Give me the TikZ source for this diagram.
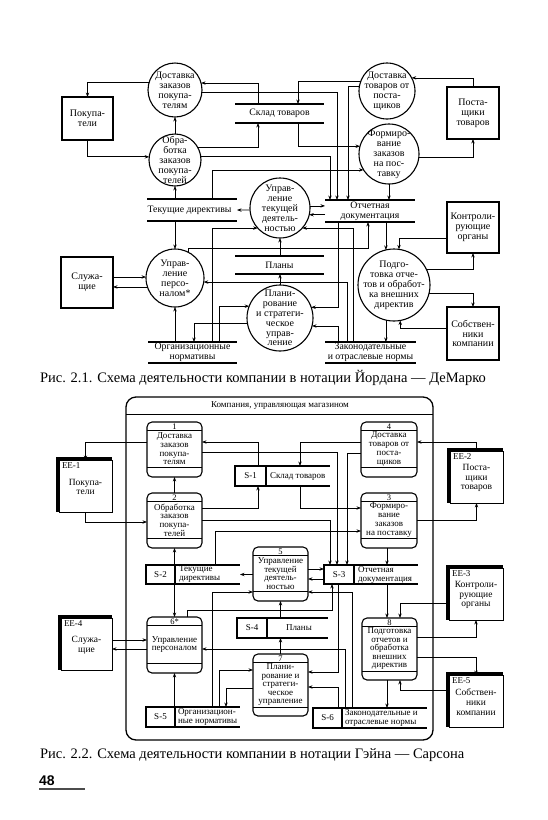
\documentclass[tikz,border=0pt]{standalone}
\usepackage{fontspec}
\setmainfont{Liberation Serif}
\newfontfamily\pgnumfont{Liberation Sans}
\usetikzlibrary{arrows.meta}
\begin{document}
\begin{tikzpicture}[x=1pt,y=-1pt,
  every node/.style={inner sep=0pt,outer sep=0pt},
  dtext/.style={align=center,font=\fontsize{10}{9.9}\selectfont},
  gptext/.style={align=center,font=\fontsize{9}{8.7}\selectfont},
  circ/.style={circle,draw,line width=1.1pt},
  ebox/.style={rectangle,draw,line width=1.1pt,align=center,font=\fontsize{10}{9.9}\selectfont},
  dstore/.style={align=center,font=\fontsize{9.8}{9.8}\selectfont},
  sline/.style={line width=1.3pt},
  arr/.style={-{Stealth[length=4.5pt,width=3.4pt]},line width=0.7pt},
  gproc/.style={rectangle,draw,rounded corners=5pt,line width=1.1pt},
  band/.style={line width=0.9pt},
  gnum/.style={font=\fontsize{8.5}{8.5}\selectfont},
  gid/.style={rectangle,draw,line width=1.1pt,font=\fontsize{9}{9}\selectfont},
  gtext/.style={anchor=west,align=left,font=\fontsize{9}{9}\selectfont},
  eebox/.style={rectangle,draw,line width=0.8pt,fill=white},
  eelab/.style={anchor=north west,font=\fontsize{9}{9}\selectfont},
  eetext/.style={align=center,font=\fontsize{9.5}{9.8}\selectfont},
  captxt/.style={anchor=west,font=\fontsize{14.5}{15}\selectfont}
]
\useasboundingbox (0,0) rectangle (547,820);
\fill[white] (0,0) rectangle (547,820);

% ================= TOP DIAGRAM (Yourdon - DeMarco) =================
\node[circ,minimum size=54pt] (c1) at (175,90) {};
\node[dtext] (t1) at (c1) {Доставка\\заказов\\покупа-\\телям};
\node[circ,minimum size=52pt] (c2) at (175,160) {};
\node[dtext] (t2) at (c2) {Обра-\\ботка\\заказов\\покупа-\\телей};
\node[circ,minimum size=56pt] (c3) at (387,91) {};
\node[dtext] (t3) at (c3) {Доставка\\товаров от\\поста-\\щиков};
\node[circ,minimum size=60pt] (c4) at (389,154) {};
\node[dtext] (t4) at (c4) {Формиро-\\вание\\заказов\\на пос-\\тавку};
\node[circ,minimum size=60pt] (c5) at (280,208) {};
\node[dtext] (t5) at (c5) {Управ-\\ление\\текущей\\деятель-\\ностью};
\node[circ,minimum size=58pt] (c6) at (175,278) {};
\node[dtext] (t6) at (c6) {Управ-\\ление\\персо-\\налом*};
\node[circ,minimum size=66pt] (c7) at (280,318) {};
\node[dtext] (t7) at (c7) {Плани-\\рование\\и стратеги-\\ческое\\управ-\\ление};
\node[circ,minimum size=72pt] (c8) at (394,285) {};
\node[dtext] (t8) at (c8) {Подго-\\товка отче-\\тов и обработ-\\ка внешних\\директив};

\node[ebox,minimum width=51pt,minimum height=43pt] (bpk) at (87.5,118.5) {Покупа-\\тели};
\node[ebox,minimum width=52pt,minimum height=52pt] (bps) at (473,113) {Поста-\\щики\\товаров};
\node[ebox,minimum width=52pt,minimum height=51pt] (bsl) at (87,282.5) {Служа-\\щие};
\node[ebox,minimum width=52pt,minimum height=51pt] (bko) at (473,227.5) {Контроли-\\рующие\\органы};
\node[ebox,minimum width=52pt,minimum height=53pt] (bso) at (473,333.5) {Собствен-\\ники\\компании};

\node[dstore,minimum width=89pt,minimum height=19pt] (ssk) at (279.5,113.5) {Склад товаров};
\node[dstore,minimum width=90pt,minimum height=22pt] (std) at (192,210) {Текущие директивы\hspace{5pt}};
\node[dstore,minimum width=90pt,minimum height=22pt] (sod) at (370,211) {Отчетная\\документация};
\node[dstore,minimum width=89pt,minimum height=18pt] (spl) at (279.5,265) {Планы};
\node[dstore,minimum width=89pt,minimum height=21pt] (son) at (192.5,352.5) {Организационные\\нормативы};
\node[dstore,minimum width=91pt,minimum height=21pt] (szn) at (370.5,352.5) {Законодательные\\и отраслевые нормы};
\foreach \s in {ssk,std,sod,spl,son,szn}{
  \draw[sline] (\s.north west) -- (\s.north east) (\s.south west) -- (\s.south east);
}

% connectors top
\draw[arr] (c1.163) -| (bpk.north);
\draw[arr] (bpk.south) |- (c2.173);
\draw[arr] (c2.north) -- (c1.south);
\draw[arr] (258,0 |- ssk.north) |- (c1.15);
\draw[arr] (c1.354) -| (337,0 |- sod.north);
\draw[arr] (c2.30) -| (258,0 |- ssk.south);
\draw[arr] (c2.7) -| (330,0 |- sod.north);
\draw[arr] (c3.159) -| (298,0 |- ssk.north);
\draw[arr] (c3.170) -| (348,0 |- sod.north);
\draw[arr] (bps.north) |- (c3.28);
\draw[arr] (c4.354) -| (bps.south);
\draw[arr] (298,0 |- ssk.south) |- (c4.165);
\draw[arr] (212,0 |- std.north) |- (c4.212);
\draw[arr] (c2.south |- std.north) -- (c2.south);
\draw[arr] (c4.south) -- (c4.south |- sod.north);
\draw[arr] (c5.184) -- (std.east);
\draw[arr] (c5.4) -- (sod.west |- c5.4);
\draw[arr] (sod.west |- c5.347) -- (c5.347);
\draw[arr] (c5.south |- spl.north) -- (c5.south);
\draw[arr] (c7.north) -- (c7.north |- spl.south);
\draw[arr] (212,0 |- son.north) |- (c5.222);
\draw[arr] (353,0 |- szn.north) |- (c5.318);
\draw[arr] (c6.63) |- (368,248) -- (368,0 |- sod.south);
\draw[arr] (c6.north |- std.south) -- (c6.north);
\draw[arr] (bsl.east |- c6.178) -- (c6.178);
\draw[arr] (c6.198) -- (bsl.east |- c6.198);
\draw[arr] (c6.south |- son.north) -- (c6.south);
\draw[arr] (347,0 |- szn.north) |- (c6.352);
\draw[arr] (338,0 |- sod.south) |- (c7.19);
\draw[arr] (338,0 |- szn.north) |- (c7.346);
\draw[arr] (219,0 |- son.north) |- (c7.159);
\draw[arr] (c7.190) -| (194,0 |- son.north);
\draw[arr] (c8.103 |- sod.south) -- (c8.103);
\draw[arr] (bko.west |- 0,238) -| (c8.82);
\draw[arr] (c8.25) -| (bko.south);
\draw[arr] (c8.347) -| (bso.north);
\draw[arr] (bso.west |- 0,328) -| (c8.280);
\draw[arr] (c8.257) -- (c8.257 |- szn.north);

\node[captxt] (cap1) at (40,378) {Рис. 2.1. Схема деятельности компании в нотации Йордана~--- ДеМарко};

% ================= BOTTOM DIAGRAM (Gane - Sarson) =================
\node[draw,rounded corners=10pt,line width=1.3pt,minimum width=307pt,minimum height=343pt] (frame) at (279.5,568.5) {};
\draw[line width=1pt] (frame.west |- 0,414) -- (frame.east |- 0,414);
\node[font=\fontsize{9}{9}\selectfont] (fhead) at (280,406) {Компания, управляющая магазином};

% processes
\newcommand{\gsproc}[6]{%
  \node[gproc,minimum width=#3pt,minimum height=#4pt] (#1) at (#2) {};
  \draw[band] ([yshift=-8.5pt]#1.north west) -- ([yshift=-8.5pt]#1.north east);
  \draw[band] ([yshift=9.5pt]#1.south west) -- ([yshift=9.5pt]#1.south east);
  \node[gnum] (#1n) at ([yshift=-4.3pt]#1.north) {#5};
  \node[gptext] (#1t) at ([yshift=0.5pt]#1.center) {#6};
}
\gsproc{p1}{174.5,449.5}{55}{55}{1}{Доставка\\заказов\\покупа-\\телям}
\gsproc{p2}{174.5,520.5}{55}{55}{2}{Обработка\\заказов\\покупа-\\телей}
\gsproc{p4}{389,449.5}{56}{55}{4}{Доставка\\товаров от\\поста-\\щиков}
\gsproc{p3}{389,520.5}{56}{55}{3}{Формиро-\\вание\\заказов\\на поставку}
\gsproc{p5}{280.5,574}{55}{54}{5}{Управление\\текущей\\деятель-\\ностью}
\gsproc{p6}{174.5,645}{55}{56}{6*}{Управление\\персоналом}
\node[gproc,minimum width=55pt,minimum height=62pt] (p7) at (280.5,685) {};
\draw[band] ([yshift=-8.5pt]p7.north west) -- ([yshift=-8.5pt]p7.north east);
\draw[band] ([yshift=9pt]p7.south west) -- ([yshift=9pt]p7.south east);
\node[gnum] (p7n) at ([yshift=-4.3pt]p7.north) {7};
\node[align=center,font=\fontsize{9}{8.5}\selectfont] (p7t) at (p7.center) {Плани-\\рование и\\стратеги-\\ческое\\управление};
\node[gproc,minimum width=55pt,minimum height=62pt] (p8) at (389.5,649) {};
\draw[band] ([yshift=-8.5pt]p8.north west) -- ([yshift=-8.5pt]p8.north east);
\draw[band] ([yshift=9pt]p8.south west) -- ([yshift=9pt]p8.south east);
\node[gnum] (p8n) at ([yshift=-4.3pt]p8.north) {8};
\node[align=center,font=\fontsize{9}{8.5}\selectfont] (p8t) at (p8.center) {Подготовка\\отчетов и\\обработка\\внешних\\директив};

% stores
\newcommand{\gsstore}[6]{%
  \node[gid,minimum width=#3pt,minimum height=#4pt] (#1) at (#2) {#5};
  \draw[line width=1.1pt] (#1.north east) -- (#6,0 |- #1.north);
  \draw[line width=1.1pt] (#1.south east) -- (#6,0 |- #1.south);
}
\gsstore{g1}{250.5,476}{31}{20}{S-1}{330}
\gsstore{g2}{160.5,574.5}{29}{19}{S-2}{240}
\gsstore{g3}{339,574.5}{30}{19}{S-3}{418}
\gsstore{g4}{252,628}{30}{20}{S-4}{328}
\gsstore{g5}{160.5,717}{29}{20}{S-5}{240}
\gsstore{g6}{327.5,718}{29}{20}{S-6}{427}
\node[gtext] (g1t) at ([xshift=4pt]g1.east) {Склад товаров};
\node[gtext] (g2t) at ([xshift=4pt]g2.east) {Текущие\\директивы};
\node[gtext] (g3t) at ([xshift=4pt]g3.east) {Отчетная\\документация};
\node[gtext] (g4t) at ([xshift=19pt]g4.east) {Планы};
\node[gtext] (g5t) at ([xshift=3pt]g5.east) {Организацион-\\ные нормативы};
\node[gtext] (g6t) at ([xshift=3pt]g6.east) {Законодательные и\\отраслевые нормы};

% external entities
\newcommand{\gsee}[5]{%
  \node[eebox,minimum width=#3pt,minimum height=52pt] (#1) at (#2) {};
  \fill ([xshift=-2.6pt]#1.south west) rectangle (#1.north west);
  \fill ([xshift=-2.6pt,yshift=2.6pt]#1.north west) rectangle (#1.north east);
  \node[eelab] (#1l) at ([xshift=3pt,yshift=-3pt]#1.north west) {#4};
  \node[eetext] (#1t) at ([yshift=-1pt]#1.center) {#5};
}
\gsee{e1}{85.5,486}{53}{EE-1}{Покупа-\\тели}
\gsee{e2}{476.5,477}{53}{EE-2}{Поста-\\щики\\товаров}
\gsee{e3}{476,594}{54}{EE-3}{Контроли-\\рующие\\органы}
\gsee{e4}{86.5,644}{51}{EE-4}{Служа-\\щие}
\gsee{e5}{476,701}{54}{EE-5}{Собствен-\\ники\\компании}

% connectors bottom
\draw[arr] (p1.west |- 0,442) -| (e1.north);
\draw[arr] (e1.south) |- (p2.west |- 0,522);
\draw[arr] (p2.north) -- (p1.south);
\draw[arr] (258,0 |- g1.north) |- (p1.east |- 0,442);
\draw[arr] (p1.east |- 0,452) -| (337,0 |- g3.north);
\draw[arr] (p2.east |- 0,508) -| (258,0 |- g1.south);
\draw[arr] (p2.east |- 0,520) -| (330,0 |- g3.north);
\draw[arr] (p4.west |- 0,442) -| (300,0 |- g1.north);
\draw[arr] (p4.west |- 0,453) -| (347,0 |- g3.north);
\draw[arr] (e2.north) |- (p4.east |- 0,442);
\draw[arr] (p3.east |- 0,520) -| (e2.south);
\draw[arr] (300,0 |- g1.south) |- (p3.west |- 0,508);
\draw[arr] (215,0 |- g2.north) |- (p3.west |- 0,531);
\draw[arr] (p2.south |- g2.north) -- (p2.south);
\draw[arr] (387,0 |- p3.south) -- (387,0 |- g3.north);
\draw[arr] (p5.west |- g2.center) -- (240,0 |- g2.center);
\draw[arr] (p5.east |- 0,569) -- (g3.west |- 0,569);
\draw[arr] (g3.west |- 0,579) -- (p5.east |- 0,579);
\draw[arr] (p5.south |- g4.north) -- (p5.south);
\draw[arr] (p7.north) -- (p7.north |- g4.south);
\draw[arr] (212,0 |- g5.north) |- (p5.west |- 0,592);
\draw[arr] (352,0 |- g6.north) |- (p5.east |- 0,592);
\draw[arr] (187,0 |- p6.north) |- (332,610) -- (332,0 |- g3.south);
\draw[arr] (p6.north |- g2.south) -- (p6.north);
\draw[arr] (e4.east |- 0,640) -- (p6.west |- 0,640);
\draw[arr] (p6.west |- 0,649) -- (e4.east |- 0,649);
\draw[arr] (345,0 |- g6.north) |- (p6.east |- 0,649);
\draw[arr] (p6.south |- g5.north) -- (p6.south);
\draw[arr] (219,0 |- g5.north) |- (p7.west |- 0,670);
\draw[arr] (p7.west |- 0,688) -| (226,0 |- g5.north);
\draw[arr] (338,0 |- g3.south) |- (p7.east |- 0,672);
\draw[arr] (338,0 |- g6.north) |- (p7.east |- 0,687);
\draw[arr] (387,0 |- g3.south) -- (387,0 |- p8.north);
\draw[arr] (e3.west |- 0,603) -| (400,0 |- p8.north);
\draw[arr] (p8.east |- 0,637) -| (e3.south);
\draw[arr] (p8.east |- 0,657) -| (e5.north);
\draw[arr] (e5.west |- 0,690) -| (400,0 |- p8.south);
\draw[arr] (387,0 |- p8.south) -- (387,0 |- g6.north);

\node[captxt] (cap2) at (40,755) {Рис. 2.2. Схема деятельности компании в нотации Гэйна~--- Сарсона};
\node[anchor=south west,font=\pgnumfont\bfseries\fontsize{14}{14}\selectfont] (pg) at (39,786) {48};
\draw[line width=1.6pt,black!70] (pg.south west |- 0,789) -- (85,789);
\end{tikzpicture}
\end{document}
